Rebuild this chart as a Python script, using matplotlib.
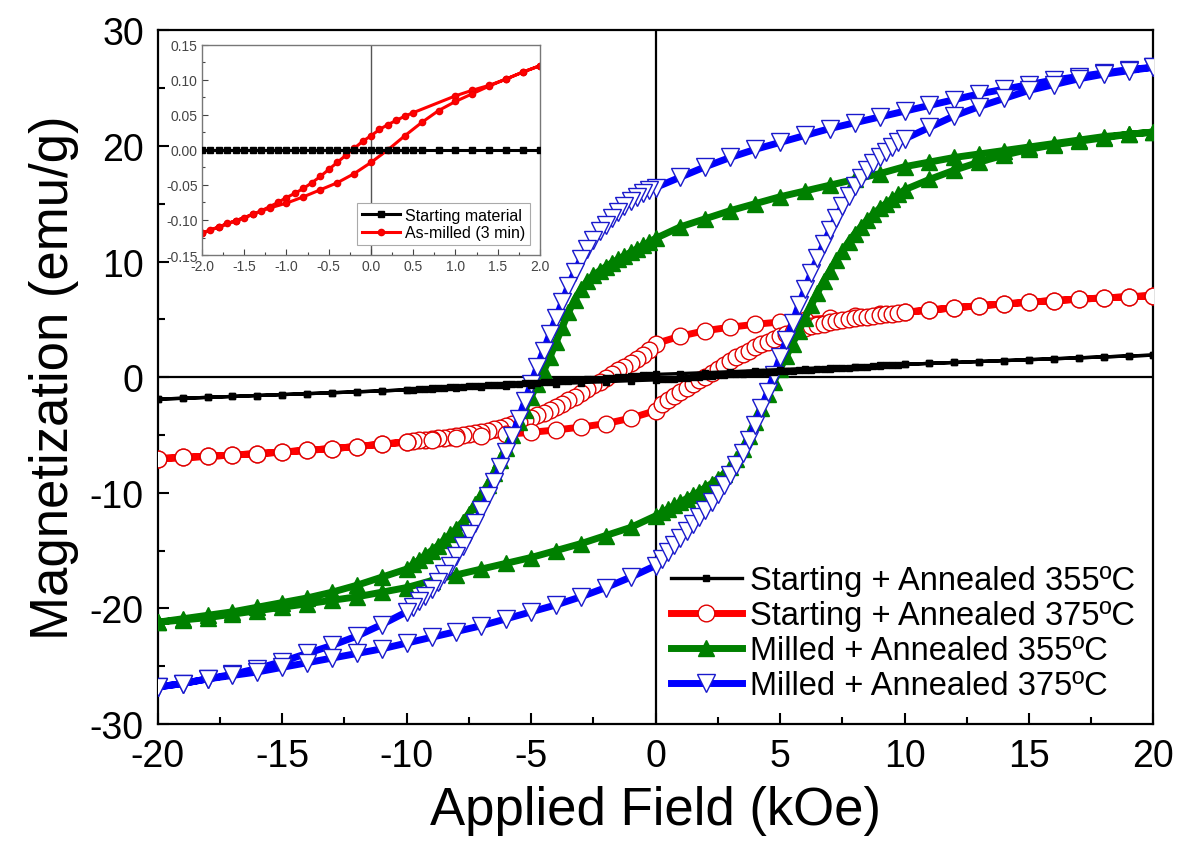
import numpy as np
import matplotlib
matplotlib.use("Agg")
import matplotlib.pyplot as plt
from matplotlib.ticker import MultipleLocator, FormatStrFormatter

plt.rcParams['font.family'] = ['Liberation Sans', 'DejaVu Sans']
plt.rcParams['axes.unicode_minus'] = False

# ---- field grids (kOe) ----
H_TOP = [20, 19, 18, 17, 16, 15, 14, 13, 12, 11, 10, 9, 8, 7, 6, 5, 4, 3, 2, 1]
H_DENSE_DOWN = [0.0, -0.25, -0.5, -0.75, -1.0, -1.25, -1.5, -1.75, -2.0, -2.25,
                -2.5, -2.75, -3.0, -3.25, -3.5, -3.75, -4.0, -4.25, -4.5, -4.75,
                -5.0, -5.25, -5.5, -5.75, -6.0, -6.25, -6.5, -6.75, -7.0, -7.25,
                -7.5, -7.75, -8.0, -8.25, -8.5, -8.75, -9.0, -9.25, -9.5, -9.75, -10.0]
H_BOT = [-11, -12, -13, -14, -15, -16, -17, -18, -19, -20]
H_LOW = [-20, -19, -18, -17, -16, -15, -14, -13, -12, -11, -10, -9, -8, -7, -6, -5, -4, -3, -2, -1]
H_DENSE_UP = [0.0, 0.25, 0.5, 0.75, 1.0, 1.25, 1.5, 1.75, 2.0, 2.25,
              2.5, 2.75, 3.0, 3.25, 3.5, 3.75, 4.0, 4.25, 4.5, 4.75,
              5.0, 5.25, 5.5, 5.75, 6.0, 6.25, 6.5, 6.75, 7.0, 7.25,
              7.5, 7.75, 8.0, 8.25, 8.5, 8.75, 9.0, 9.25, 9.5, 9.75, 10.0]
H_HIGH = [11, 12, 13, 14, 15, 16, 17, 18, 19, 20]

H_DOWN = H_TOP + H_DENSE_DOWN + H_BOT
H_UP = H_LOW + H_DENSE_UP + H_HIGH

# ---- Starting + Annealed 355C (emu/g) ----
black_down = [1.90, 1.83, 1.75, 1.67, 1.59, 1.51, 1.43, 1.35, 1.27, 1.19,
              1.10, 1.01, 0.92, 0.83, 0.74, 0.65, 0.56, 0.47, 0.39, 0.31,
              0.24, 0.20, 0.16, 0.12, 0.08, 0.04, 0.00, -0.04, -0.08, -0.12,
              -0.16, -0.20, -0.23, -0.27, -0.30, -0.34, -0.37, -0.41, -0.44, -0.47,
              -0.50, -0.53, -0.56, -0.59, -0.62, -0.65, -0.68, -0.71, -0.74, -0.77,
              -0.80, -0.83, -0.86, -0.89, -0.92, -0.95, -0.98, -1.01, -1.04, -1.07, -1.10,
              -1.19, -1.27, -1.35, -1.43, -1.51, -1.59, -1.67, -1.75, -1.83, -1.90]
black_up = [-1.90, -1.83, -1.75, -1.67, -1.59, -1.51, -1.43, -1.35, -1.27, -1.19,
            -1.10, -1.01, -0.92, -0.83, -0.74, -0.65, -0.56, -0.47, -0.39, -0.31,
            -0.24, -0.20, -0.16, -0.12, -0.08, -0.04, 0.00, 0.04, 0.08, 0.12,
            0.16, 0.20, 0.23, 0.27, 0.30, 0.34, 0.37, 0.41, 0.44, 0.47,
            0.50, 0.53, 0.56, 0.59, 0.62, 0.65, 0.68, 0.71, 0.74, 0.77,
            0.80, 0.83, 0.86, 0.89, 0.92, 0.95, 0.98, 1.01, 1.04, 1.07, 1.10,
            1.19, 1.27, 1.35, 1.43, 1.51, 1.59, 1.67, 1.75, 1.83, 1.90]

# ---- Starting + Annealed 375C ----
red_down = [7.05, 6.95, 6.85, 6.74, 6.62, 6.48, 6.33, 6.18, 6.00, 5.80,
            5.62, 5.45, 5.28, 5.12, 4.95, 4.77, 4.57, 4.32, 4.02, 3.55,
            2.90, 2.35, 1.95, 1.60, 1.25, 0.92, 0.60, 0.27, -0.05, -0.38,
            -0.72, -1.05, -1.38, -1.70, -2.00, -2.30, -2.57, -2.83, -3.07, -3.30,
            -3.52, -3.72, -3.91, -4.08, -4.24, -4.38, -4.51, -4.63, -4.74, -4.84,
            -4.93, -5.02, -5.10, -5.17, -5.24, -5.30, -5.36, -5.42, -5.48, -5.54, -5.60,
            -5.80, -6.00, -6.18, -6.33, -6.48, -6.62, -6.74, -6.85, -6.95, -7.05]
red_up = [-7.05, -6.95, -6.85, -6.74, -6.62, -6.48, -6.33, -6.18, -6.00, -5.80,
          -5.62, -5.45, -5.28, -5.12, -4.95, -4.77, -4.57, -4.32, -4.02, -3.55,
          -2.90, -2.35, -1.95, -1.60, -1.25, -0.92, -0.60, -0.27, 0.05, 0.38,
          0.72, 1.05, 1.38, 1.70, 2.00, 2.30, 2.57, 2.83, 3.07, 3.30,
          3.52, 3.72, 3.91, 4.08, 4.24, 4.38, 4.51, 4.63, 4.74, 4.84,
          4.93, 5.02, 5.10, 5.17, 5.24, 5.30, 5.36, 5.42, 5.48, 5.54, 5.60,
          5.80, 6.00, 6.18, 6.33, 6.48, 6.62, 6.74, 6.85, 6.95, 7.05]

# ---- Milled + Annealed 355C ----
green_down = [21.2, 21.0, 20.8, 20.5, 20.2, 19.9, 19.6, 19.3, 19.0, 18.6,
              18.2, 17.6, 17.1, 16.6, 16.1, 15.6, 15.0, 14.4, 13.7, 13.0,
              12.0, 11.7, 11.4, 11.1, 10.8, 10.5, 10.2, 9.9, 9.55, 9.2,
              8.8, 8.3, 7.6, 6.7, 5.6, 4.3, 3.0, 1.7, 0.5, -0.6,
              -1.7, -2.8, -3.9, -5.0, -6.1, -7.2, -8.3, -9.3, -10.2, -11.0,
              -11.8, -12.5, -13.1, -13.6, -14.1, -14.6, -15.0, -15.4, -15.8, -16.2, -16.6,
              -17.3, -18.0, -18.6, -19.1, -19.5, -19.9, -20.3, -20.6, -20.9, -21.2]
green_up = [-21.2, -21.0, -20.8, -20.5, -20.2, -19.9, -19.6, -19.3, -19.0, -18.6,
            -18.2, -17.6, -17.1, -16.6, -16.1, -15.6, -15.0, -14.4, -13.7, -13.0,
            -12.0, -11.7, -11.4, -11.1, -10.8, -10.5, -10.2, -9.9, -9.55, -9.2,
            -8.8, -8.35, -7.8, -7.1, -6.2, -5.1, -3.9, -2.7, -1.5, -0.4,
            0.7, 1.8, 2.9, 4.0, 5.1, 6.2, 7.3, 8.3, 9.2, 10.1,
            10.9, 11.7, 12.4, 13.0, 13.6, 14.1, 14.6, 15.0, 15.4, 15.8, 16.2,
            17.1, 17.9, 18.6, 19.2, 19.7, 20.1, 20.4, 20.7, 21.0, 21.2]

# ---- Milled + Annealed 375C ----
blue_down = [26.8, 26.6, 26.3, 26.0, 25.7, 25.3, 24.9, 24.5, 24.0, 23.5,
             23.0, 22.5, 22.0, 21.5, 20.9, 20.3, 19.7, 19.0, 18.2, 17.3,
             16.4, 16.2, 15.9, 15.6, 15.2, 14.8, 14.3, 13.8, 13.2, 12.6,
             11.9, 11.1, 10.2, 9.1, 7.9, 6.5, 5.1, 3.7, 2.3, 0.9,
             -0.6, -2.1, -3.6, -5.1, -6.5, -7.8, -9.1, -10.3, -11.5, -12.6,
             -13.6, -14.6, -15.5, -16.3, -17.0, -17.7, -18.3, -18.9, -19.4, -19.9, -20.3,
             -21.4, -22.4, -23.2, -23.9, -24.6, -25.2, -25.7, -26.1, -26.5, -26.8]
blue_up = [-26.8, -26.5, -26.1, -25.8, -25.5, -25.1, -24.7, -24.3, -23.9, -23.5,
           -23.0, -22.5, -22.0, -21.5, -20.9, -20.3, -19.7, -19.0, -18.2, -17.3,
           -16.3, -15.7, -15.1, -14.5, -13.9, -13.3, -12.7, -12.1, -11.5, -10.8,
           -10.1, -9.3, -8.5, -7.6, -6.6, -5.4, -4.1, -2.7, -1.3, 0.2,
           1.7, 3.2, 4.7, 6.2, 7.6, 9.0, 10.3, 11.5, 12.7, 13.8,
           14.8, 15.7, 16.5, 17.2, 17.9, 18.5, 19.0, 19.5, 19.9, 20.3, 20.6,
           21.6, 22.6, 23.4, 24.1, 24.8, 25.3, 25.8, 26.2, 26.5, 26.8]

# ---- inset: starting material / as-milled (3 min) ----
inset_black_h = [-2.0, -1.9, -1.8, -1.7, -1.6, -1.5, -1.4, -1.3, -1.2, -1.1, -1.0,
                 -0.9, -0.8, -0.7, -0.6, -0.5, -0.4, -0.3, -0.2, -0.1, 0.0,
                 0.1, 0.2, 0.3, 0.4, 0.5, 0.6, 0.8, 1.0, 1.2, 1.4, 1.6, 1.8, 2.0]
inset_black_m = [0.0, 0.0, 0.0, 0.0, 0.0, 0.0, 0.0, 0.0, 0.0, 0.0, 0.0,
                 0.0, 0.0, 0.0, 0.0, 0.0, 0.0, 0.0, 0.0, 0.0, 0.0,
                 0.0, 0.0, 0.0, 0.0, 0.0, 0.0, 0.0, 0.0, 0.0, 0.0, 0.0, 0.0, 0.0]
inset_red_h_down = [2.0, 1.8, 1.6, 1.4, 1.2, 1.0, 0.5, 0.4, 0.3, 0.2, 0.1, 0.0,
                    -0.1, -0.2, -0.3, -0.4, -0.5, -0.6, -0.7, -0.8, -0.9, -1.0,
                    -1.1, -1.2, -1.3, -1.4, -1.5, -1.6, -1.7, -1.8, -1.9, -2.0]
inset_red_m_down = [0.120, 0.111, 0.101, 0.092, 0.085, 0.077, 0.053, 0.048, 0.042, 0.036, 0.029, 0.020,
                    0.012, 0.002, -0.008, -0.018, -0.028, -0.038, -0.047, -0.055, -0.062, -0.068,
                    -0.075, -0.081, -0.087, -0.092, -0.097, -0.101, -0.105, -0.110, -0.114, -0.119]
inset_red_h_up = [-2.0, -1.8, -1.6, -1.4, -1.2, -1.0, -0.8, -0.6, -0.4, -0.2, 0.0,
                  0.2, 0.4, 0.6, 0.8, 1.0, 1.2, 1.4, 1.6, 1.8, 2.0]
inset_red_m_up = [-0.119, -0.110, -0.101, -0.092, -0.083, -0.076, -0.067, -0.057, -0.047, -0.034, -0.018,
                  0.000, 0.020, 0.039, 0.056, 0.069, 0.080, 0.091, 0.101, 0.111, 0.120]

labels = ['Starting + Annealed 355ºC', 'Starting + Annealed 375ºC',
          'Milled + Annealed 355ºC', 'Milled + Annealed 375ºC']


def loop(h_down, m_down, h_up, m_up):
    return np.array(h_down + h_up), np.array(m_down + m_up)


fig = plt.figure(figsize=(11.77, 8.45), dpi=100)
ax = fig.add_axes([0.134, 0.142, 0.846, 0.821])

ax.axhline(0, color='k', lw=1.6, zorder=1)
ax.axvline(0, color='k', lw=1.6, zorder=1)

h, m = loop(H_DOWN, red_down, H_UP, red_up)
l_red, = ax.plot(h, m, color='#ff0000', lw=5, marker='o', ms=12,
                 mfc='white', mec='#e00000', mew=1.0, zorder=3)
h, m = loop(H_DOWN, green_down, H_UP, green_up)
l_green, = ax.plot(h, m, color='#008000', lw=5, marker='^', ms=12,
                   mfc='#008000', mec='#008000', zorder=4)
h, m = loop(H_DOWN, blue_down, H_UP, blue_up)
l_blue, = ax.plot(h, m, color='#0000ff', lw=5, marker='v', ms=13,
                  mfc='white', mec='#1a1acc', mew=1.0, zorder=5)
h, m = loop(H_DOWN, black_down, H_UP, black_up)
l_black, = ax.plot(h, m, color='k', lw=2.4, marker='s', ms=5, zorder=6)

ax.set_xlim(-20, 20)
ax.set_ylim(-30, 30)
ax.xaxis.set_major_locator(MultipleLocator(5))
ax.xaxis.set_minor_locator(MultipleLocator(2.5))
ax.yaxis.set_major_locator(MultipleLocator(10))
ax.yaxis.set_minor_locator(MultipleLocator(5))
ax.tick_params(which='both', direction='in', width=1.5, labelsize=27, pad=10)
ax.tick_params(which='major', length=8)
ax.tick_params(which='minor', length=5)
for s in ax.spines.values():
    s.set_linewidth(1.6)
ax.set_xlabel('Applied Field (kOe)', fontsize=38, labelpad=8)
ax.set_ylabel('Magnetization (emu/g)', fontsize=38, labelpad=8)

ax.legend([l_black, l_red, l_green, l_blue], labels, loc='lower right',
          bbox_to_anchor=(1.005, 0.0), frameon=False, fontsize=23.5,
          handlelength=2.2, handletextpad=0.25, labelspacing=0.12,
          numpoints=1, borderaxespad=0.3)

# ---- inset ----
ins = fig.add_axes([0.1716, 0.697, 0.2872, 0.249])
ins.axvline(0, color='#555555', lw=1.0, zorder=1)
i_black, = ins.plot(inset_black_h, inset_black_m, color='k', lw=2.2,
                    marker='s', ms=4.5, zorder=3)
h, m = loop(inset_red_h_down, inset_red_m_down, inset_red_h_up, inset_red_m_up)
i_red, = ins.plot(h, m, color='#ff0000', lw=2.2, marker='o', ms=4.5,
                  mec='#ee0000', zorder=2)
ins.set_xlim(-2, 2)
ins.set_ylim(-0.15, 0.15)
ins.xaxis.set_major_locator(MultipleLocator(0.5))
ins.xaxis.set_minor_locator(MultipleLocator(0.25))
ins.yaxis.set_major_locator(MultipleLocator(0.05))
ins.yaxis.set_minor_locator(MultipleLocator(0.025))
ins.xaxis.set_major_formatter(FormatStrFormatter('%.1f'))
ins.yaxis.set_major_formatter(FormatStrFormatter('%.2f'))
ins.tick_params(which='both', direction='in', width=0.8, labelsize=10,
                colors='#444444', pad=3)
ins.tick_params(which='major', length=4)
ins.tick_params(which='minor', length=2.5)
for s in ins.spines.values():
    s.set_color('#777777')
    s.set_linewidth(1.0)
leg = ins.legend([i_black, i_red], ['Starting material', 'As-milled (3 min)'],
                 loc='lower right', fontsize=11.5, handlelength=2.4,
                 handletextpad=0.3, labelspacing=0.15, fancybox=False,
                 framealpha=1, edgecolor='#aaaaaa', borderpad=0.3,
                 bbox_to_anchor=(0.995, 0.01))
leg.get_frame().set_linewidth(0.8)

fig.savefig('out.png', dpi=100)
